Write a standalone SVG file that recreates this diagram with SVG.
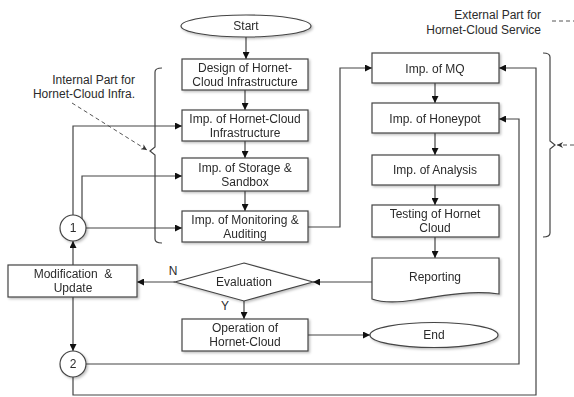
<svg xmlns="http://www.w3.org/2000/svg" width="574" height="397" viewBox="0 0 574 397">
  <defs>
    <style>
      text { font-family: "Liberation Sans", Arial, sans-serif; font-size: 12px; fill: #2b2b2b; }
      .c { text-anchor: middle; }
      .r { text-anchor: end; }
      .box { fill: #fff; stroke: #444; stroke-width: 1.2; }
      .line { fill: none; stroke: #444; stroke-width: 1.2; }
      .arrow { fill: none; stroke: #444; stroke-width: 1.2; marker-end: url(#ah); }
      .dash { fill: none; stroke: #555; stroke-width: 1; stroke-dasharray: 4 3; }
      .node { filter: url(#shadow); }
    </style>
    <filter id="shadow" x="-10%" y="-20%" width="125%" height="150%">
      <feDropShadow dx="1.5" dy="1.5" stdDeviation="1" flood-color="#000" flood-opacity="0.25"/>
    </filter>
    <marker id="ah" viewBox="0 0 10 10" refX="10" refY="5" markerWidth="9" markerHeight="7" markerUnits="userSpaceOnUse" orient="auto">
      <path d="M0,0 L10,5 L0,10 z" fill="#111"/>
    </marker>
    <marker id="ahs" viewBox="0 0 10 10" refX="10" refY="5" markerWidth="8" markerHeight="6" markerUnits="userSpaceOnUse" orient="auto">
      <path d="M0,0 L10,5 L0,10 L3,5 z" fill="#333"/>
    </marker>
  </defs>

  <!-- connectors -->
  <g id="connectors">
    <path class="arrow" d="M246,37 V59"/>
    <path class="arrow" d="M245,90 V110"/>
    <path class="arrow" d="M245,141 V158"/>
    <path class="arrow" d="M245,191 V211"/>
    <path class="arrow" d="M435,83 V103"/>
    <path class="arrow" d="M435,133 V155"/>
    <path class="arrow" d="M435,185 V205"/>
    <path class="arrow" d="M435,237 V258"/>
    <path class="arrow" d="M372,282 H313"/>
    <path class="arrow" d="M175,282 H137"/>
    <path class="arrow" d="M244,301 V319"/>
    <path class="arrow" d="M308,335 H370"/>
    <path class="arrow" d="M73,265 V241"/>
    <path class="arrow" d="M73,297 V351"/>
    <path class="arrow" d="M73,215 V126 H182"/>
    <path class="arrow" d="M82,219 V176 H182"/>
    <path class="arrow" d="M86,228 H182"/>
    <path class="arrow" d="M308,227 H340 V68 H372"/>
    <path class="arrow" d="M86,364 H519 V119 H499"/>
    <path class="arrow" d="M73,377 V395 H536 V68 H499"/>
  </g>

  <!-- group brackets and their notes -->
  <g id="internal-part">
    <path class="line" d="M162,68 Q155,68 155,72 V147 L150,151 L155,155 V239 Q155,243 162,243"/>
    <path class="dash" d="M72,103 L147,150" marker-end="url(#ahs)"/>
    <text class="r" x="135" y="84">Internal Part for</text>
    <text class="r" x="135" y="98">Hornet-Cloud Infra.</text>
  </g>
  <g id="external-part">
    <path class="line" d="M543,53 Q550,53 550,57 V141 L555,145 L550,149 V233 Q550,237 543,237"/>
    <path class="dash" d="M574,145 H557" marker-end="url(#ahs)"/>
    <path class="dash" d="M552,21 H574"/>
    <text class="r" x="541" y="19">External Part for</text>
    <text class="r" x="541" y="34">Hornet-Cloud Service</text>
  </g>

  <!-- nodes -->
  <g id="start" class="node">
    <ellipse class="box" cx="246" cy="26" rx="65" ry="11"/>
    <text class="c" x="246" y="30">Start</text>
  </g>
  <g id="design" class="node">
    <rect class="box" x="182" y="59" width="126" height="31"/>
    <text class="c" x="245" y="72">Design of Hornet-</text>
    <text class="c" x="245" y="86">Cloud Infrastructure</text>
  </g>
  <g id="imp-infra" class="node">
    <rect class="box" x="182" y="110" width="126" height="31"/>
    <text class="c" x="245" y="123">Imp. of Hornet-Cloud</text>
    <text class="c" x="245" y="137">Infrastructure</text>
  </g>
  <g id="imp-storage" class="node">
    <rect class="box" x="182" y="158" width="126" height="33"/>
    <text class="c" x="245" y="172">Imp. of Storage &amp;</text>
    <text class="c" x="245" y="186">Sandbox</text>
  </g>
  <g id="imp-monitoring" class="node">
    <rect class="box" x="182" y="211" width="126" height="31"/>
    <text class="c" x="245" y="224">Imp. of Monitoring &amp;</text>
    <text class="c" x="245" y="238">Auditing</text>
  </g>
  <g id="imp-mq" class="node">
    <rect class="box" x="372" y="53" width="127" height="30"/>
    <text class="c" x="435" y="73">Imp. of MQ</text>
  </g>
  <g id="imp-honeypot" class="node">
    <rect class="box" x="372" y="103" width="127" height="30"/>
    <text class="c" x="435" y="123">Imp. of Honeypot</text>
  </g>
  <g id="imp-analysis" class="node">
    <rect class="box" x="372" y="155" width="127" height="30"/>
    <text class="c" x="435" y="174">Imp. of Analysis</text>
  </g>
  <g id="testing" class="node">
    <rect class="box" x="372" y="205" width="127" height="32"/>
    <text class="c" x="435" y="218">Testing of Hornet</text>
    <text class="c" x="435" y="232">Cloud</text>
  </g>
  <g id="reporting" class="node">
    <path class="box" d="M372,258 H499 V294 C470,290 440,296 415,300 C395,303 380,302 372,299 Z"/>
    <text class="c" x="435" y="281">Reporting</text>
  </g>
  <g id="evaluation" class="node">
    <path class="box" d="M244,263 L313,282 L244,301 L175,282 Z"/>
    <text class="c" x="244" y="286">Evaluation</text>
  </g>
  <g id="modification" class="node">
    <rect class="box" x="8" y="265" width="129" height="32"/>
    <text class="c" x="73" y="278" xml:space="preserve">Modification  &amp;</text>
    <text class="c" x="73" y="292">Update</text>
  </g>
  <g id="operation" class="node">
    <rect class="box" x="182" y="319" width="126" height="32"/>
    <text class="c" x="245" y="332">Operation of</text>
    <text class="c" x="245" y="346">Hornet-Cloud</text>
  </g>
  <g id="end" class="node">
    <ellipse class="box" cx="434" cy="335" rx="64" ry="12.5"/>
    <text class="c" x="434" y="339">End</text>
  </g>
  <g id="connector-1" class="node">
    <circle class="box" cx="73" cy="228" r="13"/>
    <text class="c" x="73" y="232">1</text>
  </g>
  <g id="connector-2" class="node">
    <circle class="box" cx="73" cy="364" r="13"/>
    <text class="c" x="73" y="368">2</text>
  </g>

  <!-- branch labels -->
  <g id="labels">
    <text class="c" x="173" y="275">N</text>
    <text class="c" x="225" y="310">Y</text>
  </g>
</svg>
